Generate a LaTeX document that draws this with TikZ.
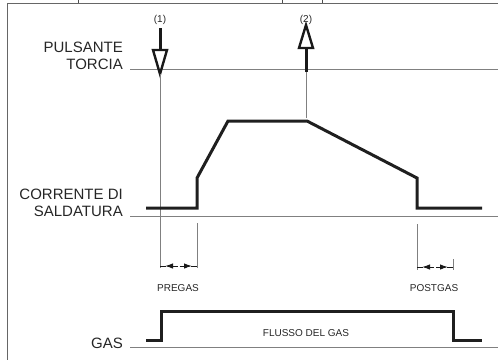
\documentclass[tikz,border=0pt]{standalone}
\usepackage{fontspec}
\setmainfont{Liberation Sans}
\usetikzlibrary{arrows.meta}

\begin{document}
\begin{tikzpicture}[x=1pt,y=-1pt,
  guide/.style={draw=black!50,line width=0.8pt},
  wave/.style={draw=black!88,line width=3pt,line join=miter},
  hollow/.style={draw=black!90,line width=2.4pt,fill=white,line join=miter},
  shaft/.style={draw=black!90,line width=3pt},
  biglabel/.style={anchor=base east,inner sep=0pt,text=black!85,font=\fontsize{15}{18}\selectfont},
  smalllabel/.style={anchor=base,inner sep=0pt,text=black!85,font=\fontsize{10}{12}\selectfont},
  dimtip/.style={draw=black!90,line width=1pt,-{Latex[length=8pt,width=5.5pt]}}]
\useasboundingbox (0,0) rectangle (498,360);
% frame
\draw[black!60,line width=1pt] (498,3) -- (7,3) -- (7,360);
\foreach \x in {78,282,322}{ \draw[black!70,line width=1pt] (\x,0) -- (\x,3); }

% signal names
\node[biglabel] (puls) at (123,52.5) {PULSANTE};
\node[biglabel] (torcia) at (123,69.5) {TORCIA};
\node[biglabel] (corr) at (123,199) {CORRENTE DI};
\node[biglabel] (sald) at (123,216) {SALDATURA};
\node[biglabel] (gas) at (123,348) {GAS};
\foreach \y in {69,216,347}{ \draw[guide] (130,\y) -- (498,\y); }

% torch button
\coordinate (t1) at (160,74);
\coordinate (t2) at (306,72);
\node[smalllabel] (n1) at (160,22.5) {(1)};
\node[smalllabel] (n2) at (306,22.5) {(2)};
\draw[shaft] (160,28) -- (160,50);
\draw[hollow] (153,50) -- (167,50) -- (t1) -- cycle;
\draw[shaft] (t2) -- (306,48);
\draw[hollow] (299,48) -- (313,48) -- (306,25) -- cycle;
\draw[guide] (t1) -- (160,268);
\draw[guide] (t2) -- (306,118);

% welding current
\draw[wave] (146,208) -- (197,208) -- (197,178) -- (228,121) -- (307,121) -- (417,178) -- (417,208) -- (482,208);

% pregas / postgas
\draw[guide] (197,223) -- (197,268);
\draw[guide] (417,224) -- (417,270);
\draw[guide] (453,259) -- (453,270);
\foreach \a/\b/\y in {160/197/266,417/453/267}{
  \draw[dimtip] ({(\a+\b)/2-1},\y) -- ({\a+5},\y);
  \draw[dimtip] ({(\a+\b)/2+1},\y) -- ({\b-5},\y);
  \draw[draw=black!90,line width=1pt] (\a,\y) -- ({\a+6},\y) (\b,\y) -- ({\b-6},\y);
}
\node[smalllabel] (pre) at (178,291.5) {PREGAS};
\node[smalllabel] (post) at (434,291) {POSTGAS};

% gas
\draw[wave] (146,340) -- (161,340) -- (161,311) -- (453,311) -- (453,340) -- (482,340);
\node[smalllabel] (flusso) at (306,336) {FLUSSO DEL GAS};
\end{tikzpicture}
\end{document}
